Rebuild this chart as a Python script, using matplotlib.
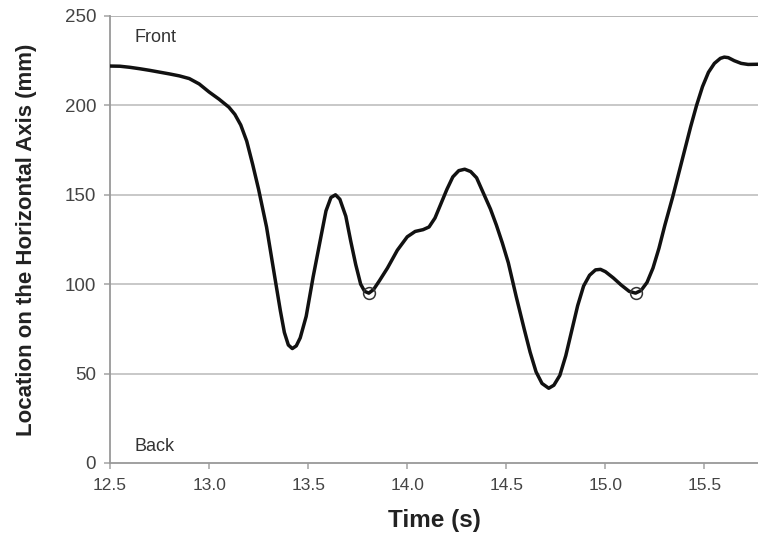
import numpy as np
import matplotlib.pyplot as plt

plt.rcParams['font.family'] = ['Liberation Sans', 'DejaVu Sans']

# position trace
time_s = [12.50, 12.55, 12.60, 12.65, 12.70, 12.75, 12.80, 12.85, 12.90, 12.95,
          13.00, 13.05, 13.10, 13.13, 13.16, 13.19, 13.22, 13.25, 13.29, 13.33,
          13.36, 13.38, 13.40, 13.42, 13.44, 13.46, 13.49, 13.525, 13.56, 13.59,
          13.615, 13.638, 13.66, 13.69, 13.715, 13.74, 13.765, 13.785, 13.806, 13.83,
          13.86, 13.90, 13.95, 14.00, 14.04, 14.08, 14.11, 14.14, 14.17, 14.20,
          14.23, 14.26, 14.29, 14.32, 14.35, 14.38, 14.42, 14.45, 14.48, 14.51,
          14.55, 14.59, 14.62, 14.65, 14.68, 14.714, 14.74, 14.77, 14.80, 14.83,
          14.86, 14.89, 14.92, 14.95, 14.975, 15.00, 15.04, 15.08, 15.12, 15.152,
          15.18, 15.21, 15.24, 15.27, 15.30, 15.34, 15.37, 15.40, 15.43, 15.46,
          15.49, 15.52, 15.55, 15.58, 15.60, 15.62, 15.65, 15.685, 15.72, 15.77]
position_mm = [222.0, 221.9, 221.3, 220.5, 219.6, 218.6, 217.6, 216.5, 215.0, 212.0,
               207.5, 203.5, 199.0, 195.0, 189.0, 180.0, 167.0, 153.0, 132.0, 105.0,
               85.0, 73.0, 66.0, 64.0, 65.5, 70.0, 82.0, 104.0, 124.0, 141.0,
               148.5, 150.0, 147.5, 138.0, 124.0, 111.0, 100.0, 96.0, 95.0, 97.0,
               102.0, 109.0, 119.0, 126.5, 129.5, 130.5, 132.0, 137.0, 145.0, 153.0,
               160.0, 163.5, 164.3, 163.0, 159.5, 152.0, 142.0, 133.0, 123.0, 112.0,
               93.0, 75.0, 62.0, 51.0, 44.5, 41.8, 43.5, 49.0, 60.0, 74.0,
               88.0, 99.0, 105.0, 108.0, 108.3, 107.0, 103.5, 99.5, 96.0, 95.0,
               96.5, 101.0, 109.0, 120.0, 133.0, 149.0, 162.0, 175.0, 188.0, 200.0,
               210.5, 218.5, 223.5, 226.3, 227.0, 226.7, 225.0, 223.5, 222.9, 223.0]

marker_t = [13.806, 15.152]
marker_mm = [95.0, 95.0]

yticks = [0, 50, 100, 150, 200, 250]
xticks = [12.5, 13.0, 13.5, 14.0, 14.5, 15.0, 15.5]

fig = plt.figure(figsize=(7.58, 5.40), dpi=100)
ax = fig.add_axes([0.1451, 0.1426, 0.8549, 0.8278])

for y in yticks[1:]:
    ax.axhline(y, color='#c4c4c4' if y < 250 else '#b0b0b0', lw=1.3, zorder=1)

ax.plot(time_s, position_mm, color='#111111', lw=2.5, solid_joinstyle='round',
        solid_capstyle='round', zorder=3)
ax.plot(marker_t, marker_mm, 'o', ms=8.5, mfc='none', mec='#333333', mew=1.1, zorder=4)

ax.set_xlim(12.5, 15.77)
ax.set_ylim(0, 250)
ax.set_xticks(xticks)
ax.set_xticklabels(['%.1f' % v for v in xticks])
ax.set_yticks(yticks)

for s in ['top', 'right']:
    ax.spines[s].set_visible(False)
ax.spines['left'].set_color('#999999')
ax.spines['bottom'].set_color('#999999')
ax.spines['left'].set_linewidth(1.3)
ax.spines['bottom'].set_linewidth(1.3)
ax.tick_params(axis='both', direction='out', length=4, width=1.2, color='#aaaaaa',
               labelcolor='#444444')
ax.tick_params(axis='x', pad=7, labelsize=12.5)
ax.tick_params(axis='y', pad=6, labelsize=13.5)

ax.text(12.626, 238, 'Front', fontsize=13, color='#333333', va='center', ha='left')
ax.text(12.626, 9.5, 'Back', fontsize=13, color='#333333', va='center', ha='left')

ax.set_xlabel('Time (s)', fontsize=17.5, fontweight='bold', color='#222222', labelpad=11)
ax.set_ylabel('Location on the Horizontal Axis (mm)', fontsize=16, fontweight='bold',
              color='#222222', labelpad=20)

fig.savefig('out.png', dpi=100)
